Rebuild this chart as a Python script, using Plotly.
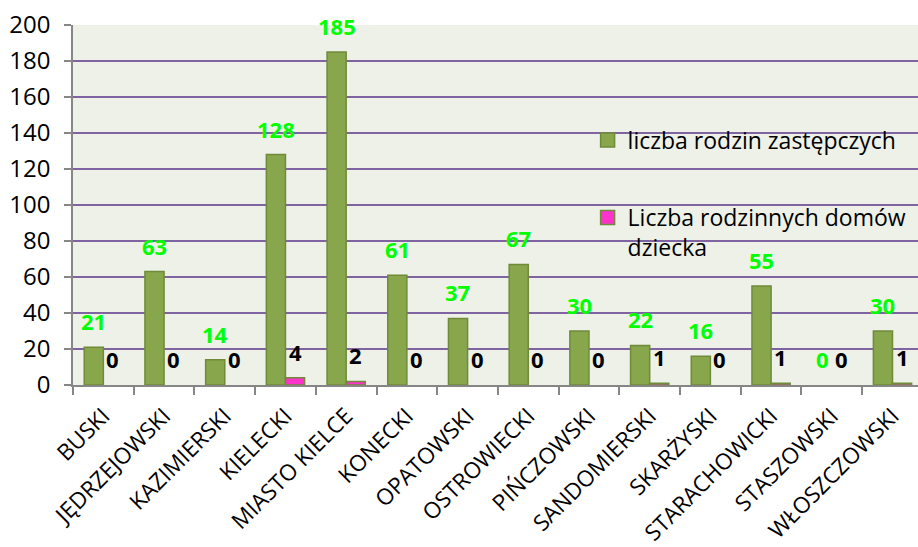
import plotly.graph_objects as go

# Powiaty (districts) and counts per district
districts = ["BUSKI", "JĘDRZEJOWSKI", "KAZIMIERSKI", "KIELECKI", "MIASTO KIELCE",
             "KONECKI", "OPATOWSKI", "OSTROWIECKI", "PIŃCZOWSKI", "SANDOMIERSKI",
             "SKARŻYSKI", "STARACHOWICKI", "STASZOWSKI", "WŁOSZCZOWSKI"]
foster_families = [21, 63, 14, 128, 185, 61, 37, 67, 30, 22, 16, 55, 0, 30]
family_homes = [0, 0, 0, 4, 2, 0, 0, 0, 0, 1, 0, 1, 0, 1]

name_ff = "liczba rodzin zastępczych"
name_fh = "Liczba rodzinnych domów<br>dziecka"

FONT = "Open Sans"
GREEN = "#88A64C"
GREEN_EDGE = "#6F8B3A"
PINK = "#FF33CC"


def edge_widths(values):
    # no outline on empty bars
    return [1.5 if v > 0 else 0 for v in values]


fig = go.Figure()
fig.add_trace(go.Bar(
    x=districts, y=foster_families, name=name_ff, showlegend=False,
    marker=dict(color=GREEN, line=dict(color=GREEN_EDGE, width=edge_widths(foster_families))),
))
fig.add_trace(go.Bar(
    x=districts, y=family_homes, name=name_fh, showlegend=False,
    marker=dict(color=PINK, line=dict(color=GREEN_EDGE, width=edge_widths(family_homes))),
))

# legend entries with larger square swatches
for name, color, leg in [(name_ff, GREEN, "legend"), (name_fh, PINK, "legend2")]:
    fig.add_trace(go.Scatter(
        x=[None], y=[None], mode="markers", name=name, legend=leg,
        marker=dict(symbol="square", size=14, color=color,
                    line=dict(color=GREEN_EDGE, width=1.5)),
    ))

# value labels above each bar
bar_px = 9.6
for d, v in zip(districts, foster_families):
    fig.add_annotation(x=d, y=v, text=f"<b>{v}</b>", showarrow=False,
                       xshift=-bar_px, yshift=26, yanchor="middle",
                       font=dict(family=FONT, size=22, color="#00FF00"))
for d, v in zip(districts, family_homes):
    fig.add_annotation(x=d, y=v, text=f"<b>{v}</b>", showarrow=False,
                       xshift=bar_px, yshift=26, yanchor="middle",
                       font=dict(family=FONT, size=22, color="#000000"))

fig.update_layout(
    width=918, height=547,
    margin=dict(l=73, r=0, t=25, b=162),
    paper_bgcolor="white",
    plot_bgcolor="#EEF1E8",
    barmode="group", bargap=0.37, bargroupgap=0,
    font=dict(family=FONT, size=23, color="black"),
    showlegend=True,
    legend=dict(x=0.609, y=0.74, xanchor="left", yanchor="top", itemsizing="trace",
                bgcolor="rgba(0,0,0,0)", font=dict(family=FONT, size=23)),
    legend2=dict(x=0.609, y=0.525, xanchor="left", yanchor="top", valign="top",
                 itemsizing="trace",
                 bgcolor="rgba(0,0,0,0)", font=dict(family=FONT, size=23)),
)

fig.update_xaxes(
    type="category", range=[-0.5, 13.42], tickangle=-45, tickson="boundaries",
    ticks="outside", ticklen=8, tickcolor="#868686", tickwidth=1.5,
    showline=True, linecolor="#868686", linewidth=1.5,
    showgrid=False, automargin=False,
    ticklabelstandoff=7,
    tickfont=dict(family=FONT, size=22.5),
)
fig.update_yaxes(
    range=[0, 200], dtick=20, tick0=0,
    ticks="outside", ticklen=7, tickcolor="#868686", tickwidth=1.5,
    showline=True, linecolor="#868686", linewidth=1.5,
    gridcolor="#8064A2", gridwidth=1.5, zeroline=False,
    ticklabelstandoff=9, automargin=False,
    tickfont=dict(family=FONT, size=24),
)

fig.write_html("out.html")
